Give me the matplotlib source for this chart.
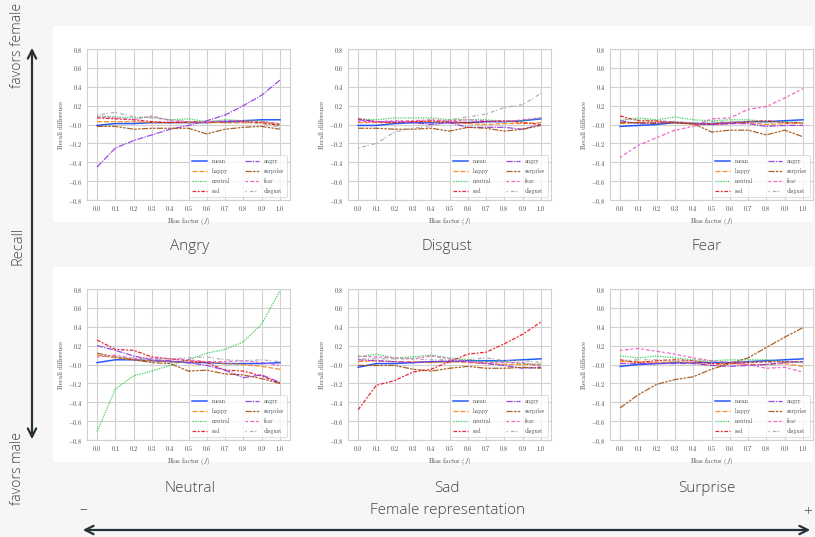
import numpy as np
import matplotlib
matplotlib.use('Agg')
import matplotlib.pyplot as plt
from matplotlib.patches import Rectangle, FancyArrowPatch
from matplotlib.ticker import FuncFormatter

# ----------------------------------------------------------------------
# Data
# ----------------------------------------------------------------------
bias = [0.0, 0.1, 0.2, 0.3, 0.4, 0.5, 0.6, 0.7, 0.8, 0.9, 1.0]
series_names = ['mean', 'happy', 'neutral', 'sad', 'angry', 'surprise', 'fear', 'disgust']
panel_titles = ['Angry', 'Disgust', 'Fear', 'Neutral', 'Sad', 'Surprise']

angry_panel = {
    'mean':     [-0.01, 0.01, 0.01, 0.02, 0.02, 0.02, 0.02, 0.03, 0.04, 0.05, 0.05],
    'happy':    [0.03, 0.03, 0.03, 0.02, 0.02, 0.02, 0.02, 0.02, 0.02, 0.02, 0.00],
    'neutral':  [0.09, 0.08, 0.07, 0.08, 0.05, 0.06, 0.03, 0.05, 0.04, 0.04, 0.00],
    'sad':      [0.07, 0.06, 0.05, 0.03, 0.02, 0.03, 0.03, 0.02, 0.03, 0.02, -0.01],
    'angry':    [-0.45, -0.25, -0.17, -0.11, -0.05, -0.01, 0.04, 0.10, 0.20, 0.31, 0.47],
    'surprise': [-0.02, -0.02, -0.05, -0.04, -0.04, -0.04, -0.10, -0.05, -0.03, -0.02, -0.05],
    'fear':     [0.08, 0.07, 0.05, 0.09, 0.04, 0.03, 0.03, 0.04, 0.04, 0.03, 0.01],
    'disgust':  [0.10, 0.13, 0.08, 0.07, 0.05, 0.03, 0.03, 0.02, 0.02, 0.01, -0.03],
}
disgust_panel = {
    'mean':     [-0.01, -0.01, 0.01, 0.02, 0.02, 0.02, 0.02, 0.03, 0.03, 0.04, 0.06],
    'happy':    [0.02, 0.02, 0.02, 0.03, 0.03, 0.02, 0.01, 0.00, 0.01, 0.01, 0.02],
    'neutral':  [0.06, 0.05, 0.07, 0.07, 0.07, 0.05, 0.05, 0.05, 0.03, 0.04, 0.07],
    'sad':      [0.06, 0.03, 0.02, 0.03, 0.04, 0.03, 0.02, 0.03, 0.04, 0.02, 0.00],
    'angry':    [0.05, 0.03, 0.03, 0.02, 0.00, 0.02, -0.03, -0.03, -0.03, -0.05, 0.00],
    'surprise': [-0.04, -0.04, -0.05, -0.05, -0.04, -0.07, -0.03, -0.04, -0.07, -0.05, -0.01],
    'fear':     [0.03, 0.03, 0.04, 0.04, 0.05, 0.04, 0.05, 0.04, 0.03, 0.05, 0.07],
    'disgust':  [-0.25, -0.20, -0.08, -0.04, -0.02, 0.05, 0.08, 0.11, 0.18, 0.21, 0.33],
}
fear_panel = {
    'mean':     [-0.02, -0.01, 0.00, 0.02, 0.01, 0.01, 0.02, 0.03, 0.03, 0.04, 0.05],
    'happy':    [0.01, 0.02, 0.03, 0.02, 0.00, 0.01, 0.02, 0.02, 0.00, 0.01, 0.01],
    'neutral':  [0.04, 0.07, 0.05, 0.08, 0.05, 0.04, 0.05, 0.05, 0.03, 0.03, 0.02],
    'sad':      [0.09, 0.04, 0.04, 0.02, 0.01, 0.00, 0.01, 0.03, 0.04, 0.02, 0.02],
    'angry':    [0.04, 0.01, 0.02, 0.03, 0.01, 0.00, 0.01, 0.01, -0.02, -0.01, -0.01],
    'surprise': [0.02, 0.02, 0.01, 0.02, 0.01, -0.08, -0.06, -0.06, -0.11, -0.06, -0.13],
    'fear':     [-0.35, -0.22, -0.14, -0.06, -0.02, 0.06, 0.07, 0.16, 0.19, 0.28, 0.38],
    'disgust':  [0.06, 0.05, 0.04, 0.03, 0.02, 0.03, 0.03, 0.03, 0.02, 0.02, 0.02],
}
neutral_panel = {
    'mean':     [0.02, 0.05, 0.05, 0.04, 0.03, 0.02, 0.02, 0.01, 0.01, 0.01, 0.02],
    'happy':    [0.10, 0.07, 0.05, 0.04, 0.03, 0.02, 0.03, 0.01, 0.00, -0.02, -0.05],
    'neutral':  [-0.71, -0.26, -0.12, -0.07, -0.01, 0.05, 0.12, 0.16, 0.24, 0.43, 0.78],
    'sad':      [0.26, 0.16, 0.15, 0.08, 0.06, 0.04, 0.02, -0.06, -0.07, -0.12, -0.20],
    'angry':    [0.20, 0.15, 0.09, 0.05, 0.04, 0.02, -0.01, -0.06, -0.14, -0.11, -0.19],
    'surprise': [0.12, 0.08, 0.05, 0.02, 0.01, -0.07, -0.06, -0.10, -0.11, -0.15, -0.20],
    'fear':     [0.08, 0.10, 0.06, 0.07, 0.06, 0.05, 0.03, 0.03, 0.04, 0.02, -0.01],
    'disgust':  [0.09, 0.08, 0.07, 0.06, 0.06, 0.07, 0.08, 0.05, 0.04, 0.05, 0.03],
}
sad_panel = {
    'mean':     [-0.03, 0.01, 0.01, 0.02, 0.03, 0.03, 0.04, 0.04, 0.04, 0.05, 0.06],
    'happy':    [0.03, 0.04, 0.03, 0.03, 0.02, 0.03, 0.02, 0.01, 0.00, 0.00, 0.00],
    'neutral':  [0.08, 0.11, 0.07, 0.08, 0.10, 0.07, 0.05, 0.03, 0.03, 0.01, 0.00],
    'sad':      [-0.48, -0.22, -0.17, -0.08, -0.05, 0.03, 0.11, 0.13, 0.22, 0.32, 0.45],
    'angry':    [0.05, 0.04, 0.03, 0.02, 0.03, 0.04, 0.03, 0.01, -0.01, -0.04, -0.03],
    'surprise': [-0.01, -0.01, -0.01, -0.05, -0.07, -0.04, -0.02, -0.04, -0.04, -0.03, -0.04],
    'fear':     [0.09, 0.08, 0.07, 0.06, 0.09, 0.06, 0.03, 0.02, 0.02, 0.02, -0.02],
    'disgust':  [0.06, 0.06, 0.06, 0.06, 0.05, 0.05, 0.05, 0.07, 0.04, 0.04, 0.02],
}
surprise_panel = {
    'mean':     [-0.02, 0.00, 0.01, 0.02, 0.02, 0.02, 0.02, 0.03, 0.04, 0.05, 0.06],
    'happy':    [0.03, 0.03, 0.02, 0.03, 0.02, -0.01, 0.01, 0.00, 0.00, 0.01, -0.02],
    'neutral':  [0.09, 0.07, 0.09, 0.07, 0.05, 0.04, 0.05, 0.05, 0.05, 0.03, 0.02],
    'sad':      [0.05, 0.02, 0.04, 0.05, 0.04, 0.01, 0.01, 0.02, 0.03, 0.03, 0.03],
    'angry':    [0.01, 0.01, 0.01, 0.01, 0.01, -0.01, -0.02, -0.01, 0.00, 0.02, 0.03],
    'surprise': [-0.46, -0.32, -0.21, -0.16, -0.13, -0.05, 0.01, 0.07, 0.18, 0.29, 0.39],
    'fear':     [0.15, 0.17, 0.14, 0.11, 0.07, 0.04, 0.02, 0.00, -0.04, -0.03, -0.08],
    'disgust':  [0.04, 0.05, 0.05, 0.04, 0.04, 0.03, 0.03, 0.03, 0.02, 0.03, 0.02],
}
panels = [angry_panel, disgust_panel, fear_panel, neutral_panel, sad_panel, surprise_panel]

# seaborn "bright" colours + seaborn default dash patterns
colors = ['#023eff', '#ff7c00', '#1ac938', '#e8000b', '#8b2be2', '#9f4800', '#f14cc1', '#a3a3a3']
dashes = [(None, None), (4, 1.5), (1, 1), (3, 1.25, 1.5, 1.25), (5, 1, 1, 1),
          (5, 1, 2, 1, 2, 1), (2, 2, 3, 1.5), (1, 2.5, 3, 1.2)]

# ----------------------------------------------------------------------
# Figure
# ----------------------------------------------------------------------
W, H = 815, 537
plt.rcParams['font.family'] = 'serif'
plt.rcParams['font.serif'] = ['cmr10', 'DejaVu Serif']
plt.rcParams['mathtext.fontset'] = 'cm'
plt.rcParams['axes.formatter.use_mathtext'] = True

fig = plt.figure(figsize=(W / 100, H / 100), dpi=100)
fig.patch.set_facecolor('#f6f6f6')


def px(x0, y0, x1, y1):
    # pixel box (top-left origin) -> figure fraction rect
    return [x0 / W, 1 - y1 / H, (x1 - x0) / W, (y1 - y0) / H]


# white "image" backgrounds for the two rows
for (y0, y1) in [(26, 222), (267, 462)]:
    r = Rectangle((53 / W, 1 - y1 / H), (813 - 53) / W, (y1 - y0) / H,
                  transform=fig.transFigure, facecolor='white', edgecolor='none', zorder=-1)
    fig.patches.append(r)

col_x = [87, 348, 610]
row_y = [(49, 200), (289, 440)]
title_x = [190, 447, 707]
title_y = [247, 488]

outer_font = ['Open Sans', 'DejaVu Sans']
outer_color = '#444444'
tick_fmt = FuncFormatter(lambda v, p: '$%.1f$' % v)

for i, data in enumerate(panels):
    r, c = divmod(i, 3)
    ax = fig.add_axes(px(col_x[c], row_y[r][0], col_x[c] + 203, row_y[r][1]))
    ax.set_zorder(2)
    for name, col, d in zip(series_names, colors, dashes):
        lw = 1.1 if name == 'mean' else 0.9
        line, = ax.plot(bias, data[name], color=col, lw=lw, alpha=0.85, label=name)
        if d[0] is not None:
            line.set_dashes(d)
    ax.set_xlim(-0.055, 1.055)
    ax.set_ylim(-0.8, 0.8)
    ax.set_xticks(bias)
    ax.set_yticks(np.arange(-0.8, 0.81, 0.2))
    ax.xaxis.set_major_formatter(tick_fmt)
    ax.yaxis.set_major_formatter(tick_fmt)
    ax.tick_params(labelsize=4.5, length=0, pad=3, colors='#444444')
    ax.grid(True, color='#d0d0d0', lw=0.8)
    ax.set_axisbelow(True)
    for s in ax.spines.values():
        s.set_color('#d0d0d0')
        s.set_linewidth(0.8)
    ax.set_xlabel('Bias factor ($f$)', fontsize=4.8, labelpad=2, color='#444444')
    ax.set_ylabel('Recall difference', fontsize=4.8, labelpad=3, color='#444444')
    leg = ax.legend(loc='lower right', ncol=2, fontsize=4.3, frameon=True,
                    handlelength=2.4, columnspacing=2.5, borderpad=0.5,
                    labelspacing=0.7, fancybox=True)
    leg.get_frame().set_edgecolor('#d0d0d0')
    leg.get_frame().set_linewidth(0.6)
    for t in leg.get_texts():
        t.set_color('#444444')

    fig.text(title_x[c] / W, 1 - title_y[r] / H, panel_titles[i], ha='center', va='center',
             fontsize=11, color=outer_color, family=outer_font, fontweight='light')

# bottom axis annotation
fig.text(447 / W, 1 - 510 / H, 'Female representation', ha='center', va='center',
         fontsize=11, color=outer_color, family=outer_font, fontweight='light')
fig.text(83 / W, 1 - 511 / H, '\u2013', ha='center', va='center',
         fontsize=11, color=outer_color, family=outer_font, fontweight='light')
fig.text(808 / W, 1 - 512 / H, '+', ha='center', va='center',
         fontsize=11, color=outer_color, family=outer_font, fontweight='light')
fig.patches.append(FancyArrowPatch((80 / W, 1 - 530 / H), (813 / W, 1 - 530 / H),
                                   transform=fig.transFigure, arrowstyle='<->,head_length=6,head_width=3',
                                   color='#263238', lw=1.6))

# left axis annotation
fig.text(18 / W, 1 - 45 / H, 'favors female', ha='center', va='center', rotation=90,
         fontsize=10.2, color=outer_color, family=outer_font, fontweight='light')
fig.text(18 / W, 1 - 246 / H, 'Recall', ha='center', va='center', rotation=90,
         fontsize=10.5, color=outer_color, family=outer_font, fontweight='light')
fig.text(18 / W, 1 - 468 / H, 'favors male', ha='center', va='center', rotation=90,
         fontsize=10.2, color=outer_color, family=outer_font, fontweight='light')
fig.patches.append(FancyArrowPatch((32 / W, 1 - 442 / H), (32 / W, 1 - 45 / H),
                                   transform=fig.transFigure, arrowstyle='<->,head_length=6,head_width=3',
                                   color='#263238', lw=1.6))

fig.savefig('out.png', dpi=100, facecolor=fig.get_facecolor())
